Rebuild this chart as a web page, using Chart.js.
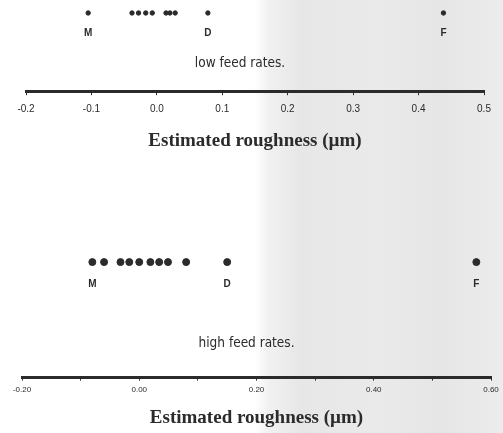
<!DOCTYPE html>
<html>
<head>
<meta charset="utf-8">
<script src="https://cdn.jsdelivr.net/npm/chart.js@4"></script>
<style>
  html, body { margin: 0; padding: 0; }
  body {
    width: 503px; height: 433px; overflow: hidden; position: relative;
    background: linear-gradient(to right, #ffffff 0px, #ffffff 255px, #f1f1f1 268px,
      #e7e7e7 300px, #eaeaea 380px, #e6e6e6 440px, #ececec 503px);
  }
  canvas { position: absolute; left: 0; }
  #low-chart { top: 0; }
  #high-chart { top: 150px; }
</style>
</head>
<body>
<canvas id="low-chart" width="503" height="155"></canvas>
<canvas id="high-chart" width="503" height="283"></canvas>
<script>
// ── Data ─────────────────────────────────────────────────────────────────────
const lowFeedValues  = [-0.105, -0.038, -0.028, -0.017, -0.007, 0.014, 0.020, 0.028, 0.078, 0.438];
const lowMarkNames   = ["M", "D", "F"];
const lowMarkValues  = [-0.105, 0.078, 0.438];
const lowTicks       = [-0.2, -0.1, 0.0, 0.1, 0.2, 0.3, 0.4, 0.5];

const highFeedValues = [-0.080, -0.060, -0.032, -0.017, 0.000, 0.019, 0.034, 0.049, 0.080, 0.150, 0.575];
const highMarkNames  = ["M", "D", "F"];
const highMarkValues = [-0.080, 0.150, 0.575];
const highTicks      = [-0.2, 0.0, 0.2, 0.4, 0.6];

const AXIS_TITLE = "Estimated roughness (\u00b5m)";
const INK = "#2b2b2b";

// Draws the letter markers and the caption inside the chart area.
const annotations = {
  id: "annotations",
  afterDatasetsDraw(chart, args, opts) {
    const { ctx, scales: { x, y } } = chart;
    ctx.save();
    ctx.fillStyle = INK;
    ctx.textAlign = "center";
    ctx.textBaseline = "middle";
    ctx.font = opts.markFont;
    opts.names.forEach((n, i) => {
      ctx.fillText(n, x.getPixelForValue(opts.values[i]), y.getPixelForValue(opts.markY));
    });
    ctx.font = opts.captionFont;
    ctx.fillText(opts.caption, x.getPixelForValue(opts.captionX), y.getPixelForValue(opts.captionY));
    ctx.restore();
  },
};

function makeDotChart(id, cfg) {
  return new Chart(document.getElementById(id), {
    type: "scatter",
    data: {
      datasets: [{
        data: cfg.values.map((v) => ({ x: v, y: cfg.dotY })),
        backgroundColor: INK,
        borderColor: INK,
        pointRadius: cfg.radius,
        pointHoverRadius: cfg.radius,
      }],
    },
    options: {
      responsive: false,
      animation: false,
      layout: { padding: cfg.padding },
      plugins: {
        legend: { display: false },
        tooltip: { enabled: false },
        annotations: {
          names: cfg.names, values: cfg.markValues, markY: cfg.markY,
          caption: cfg.caption, captionX: cfg.captionX, captionY: cfg.captionY,
          markFont: "bold 10px 'Liberation Sans', sans-serif",
          captionFont: "13.5px 'DejaVu Sans Condensed', 'DejaVu Sans', sans-serif",
        },
      },
      scales: {
        x: {
          type: "linear",
          min: cfg.ticks[0],
          max: cfg.ticks[cfg.ticks.length - 1],
          afterBuildTicks: (s) => { s.ticks = cfg.tickList.map((v) => ({ value: v })); },
          border: { display: true, color: INK, width: 3 },
          grid: { drawOnChartArea: false, drawTicks: true, tickLength: cfg.tickLength, color: INK, lineWidth: 1 },
          ticks: {
            autoSkip: false,
            maxRotation: 0,
            color: INK,
            padding: cfg.tickPadding,
            font: { family: "'Liberation Sans', sans-serif", size: cfg.tickSize },
            callback: (v) => cfg.ticks.some((t) => Math.abs(t - v) < 1e-9) ? v.toFixed(cfg.decimals) : "",
          },
          title: {
            display: true,
            text: AXIS_TITLE,
            color: INK,
            font: { family: "'Liberation Serif', 'DejaVu Serif', serif", size: 19, weight: "bold" },
            padding: cfg.titlePadding,
          },
        },
        y: { display: false, min: 0, max: cfg.yMax },
      },
    },
    plugins: [annotations],
  });
}

makeDotChart("low-chart", {
  values: lowFeedValues, names: lowMarkNames, markValues: lowMarkValues,
  ticks: lowTicks, tickList: lowTicks, decimals: 1, tickSize: 10,
  radius: 2.2, dotY: 80, markY: 59, yMax: 90,
  caption: "low feed rates.", captionX: 0.127, captionY: 28,
  padding: { left: 26, right: 19, top: 0, bottom: 0 },
  tickLength: 4, tickPadding: 8, titlePadding: { top: 6, bottom: 3 },
});

makeDotChart("high-chart", {
  values: highFeedValues, names: highMarkNames, markValues: highMarkValues,
  ticks: highTicks, tickList: [-0.2, -0.1, 0.0, 0.1, 0.2, 0.3, 0.4, 0.5, 0.6], decimals: 2, tickSize: 8,
  radius: 3.5, dotY: 117, markY: 95, yMax: 226,
  caption: "high feed rates.", captionX: 0.183, captionY: 35,
  padding: { left: 22, right: 12, top: 0, bottom: 0 },
  tickLength: 3, tickPadding: 4, titlePadding: { top: 8, bottom: 4 },
});
</script>
</body>
</html>
